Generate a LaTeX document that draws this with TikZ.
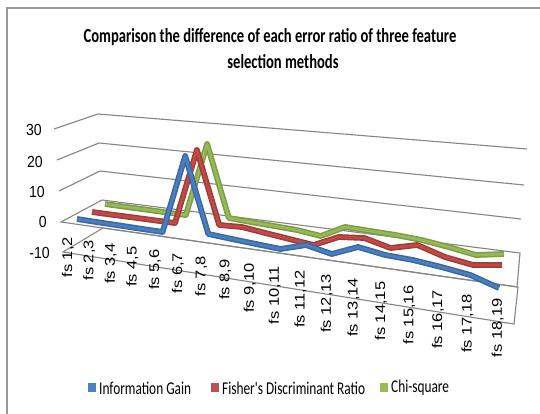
\documentclass[tikz,border=0pt]{standalone}
\usepackage{fontspec}
\setmainfont{Carlito}
\newfontfamily\axisfont{Liberation Sans}
\begin{document}
\begin{tikzpicture}[x=1pt,y=-1pt,
  frameline/.style={draw=gray!80,line width=1.4pt},
  gridline/.style={draw=black!48,line width=1.1pt},
  titletext/.style={inner sep=0pt,font=\fontsize{20}{23}\selectfont\bfseries},
  valtext/.style={inner sep=0pt,anchor=east,font=\axisfont\fontsize{16}{18}\selectfont},
  cattext/.style={inner sep=0pt,anchor=east,rotate=90,font=\axisfont\fontsize{16.5}{18}\selectfont},
  legtext/.style={inner sep=0pt,anchor=west,font=\fontsize{18}{21}\selectfont},
  serieswide/.style={line width=5.8pt,line join=round,line cap=butt},
  seriesnarrow/.style={line width=2.8pt,line join=round,line cap=butt}]
\definecolor{igout}{HTML}{3A68A3}
\definecolor{igin}{HTML}{4A7EBC}
\definecolor{fdout}{HTML}{A23B38}
\definecolor{fdin}{HTML}{BF4B48}
\definecolor{csout}{HTML}{7D9D43}
\definecolor{csin}{HTML}{95B858}
\definecolor{igkey}{HTML}{4F81BD}
\definecolor{fdkey}{HTML}{C0504D}
\definecolor{cskey}{HTML}{9BBB59}

\useasboundingbox (0,0) rectangle (540,414);
\fill[white] (0,0) rectangle (540,414);

% chart area border (top and left edges)
\draw[frameline] (7,414) -- (7,8) -- (541,8);

% title
\node[titletext] (t1) at (270,37) {\scalebox{0.73}[1]{Comparison the difference of each error ratio of three feature}};
\node[titletext] (t2) at (283,62) {\scalebox{0.73}[1]{selection methods}};

% corners of the walls: front-left, back-left, back-right per value level
\coordinate (fl30) at (54,129);  \coordinate (bl30) at (98,114);  \coordinate (br30) at (527,149);
\coordinate (fl20) at (57,160);  \coordinate (bl20) at (99,143);  \coordinate (br20) at (524,185);
\coordinate (fl10) at (59,191);  \coordinate (bl10) at (100,171); \coordinate (br10) at (521,219);
\coordinate (fl0)  at (61,222);  \coordinate (bl0)  at (102,200); \coordinate (br0)  at (520,253);
\coordinate (fr0)  at (517,287);
\coordinate (flm)  at (63,252);  \coordinate (blm)  at (103,228); \coordinate (brm)  at (518,287);
\coordinate (frm)  at (514,324);

% gridlines on side and back walls
\draw[gridline] (fl30) -- (bl30) -- (br30);
\draw[gridline] (fl20) -- (bl20) -- (br20);
\draw[gridline] (fl10) -- (bl10) -- (br10);
% plane at zero and floor at -10
\draw[gridline] (flm) -- (blm) -- (brm) -- (frm) -- cycle;
\draw[gridline] (fl0) -- (bl0) -- (br0) -- (fr0) -- cycle;

% value axis labels
\node[valtext] (v30) at (42,130) {\scalebox{0.88}[1]{30}};
\node[valtext] (v20) at (43,162) {\scalebox{0.88}[1]{20}};
\node[valtext] (v10) at (45,192) {\scalebox{0.88}[1]{10}};
\node[valtext] (v0)  at (47,222) {\scalebox{0.88}[1]{0}};
\node[valtext] (vm)  at (50,253) {\scalebox{0.88}[1]{-10}};

% category labels
\foreach \lab/\cx/\cy [count=\i] in {
  {fs 1,2}/68/237.0, {fs 2,3}/89.1/240.0, {fs 3,4}/110.6/243.1,
  {fs 4,5}/132.5/246.2, {fs 5,6}/155/249.4, {fs 6,7}/177.9/252.7,
  {fs 7,8}/201.3/256.0, {fs 8,9}/225.3/259.4, {fs 9,10}/249.8/262.9,
  {fs 10,11}/274.8/266.5, {fs 11,12}/300.4/270.1, {fs 12,13}/326.6/273.8,
  {fs 13,14}/353.5/277.7, {fs 14,15}/381/281.6, {fs 15,16}/409.1/285.6,
  {fs 16,17}/437.9/289.7, {fs 17,18}/467.4/293.9, {fs 18,19}/497.7/298.2}
  \node[cattext] (c\i) at (\cx,\cy) {\scalebox{1}[0.85]{\lab}};

% Chi-square series (back)
\def\cspath{(105,204) -- (124.6,206.7) -- (144.5,209.4) -- (164.9,212.2) -- (185.8,215)
  -- (207.1,144) -- (228.8,218) -- (251,222) -- (273.8,226) -- (297,230) -- (320.8,236)
  -- (345.2,227) -- (370.1,231) -- (395.6,235) -- (421.7,240) -- (448.5,247)
  -- (475.9,255) -- (504,254)}
\draw[serieswide,csout] \cspath;
\draw[seriesnarrow,csin] \cspath;

% Fisher's Discriminant Ratio series (middle)
\def\fdpath{(92,212) -- (112.1,214.7) -- (132.6,217.4) -- (153.6,220.2) -- (175,223)
  -- (196.9,150) -- (219.2,225) -- (242,227) -- (265.4,233) -- (289.3,239) -- (313.7,245)
  -- (338.7,237) -- (364.3,238) -- (390.5,248) -- (417.4,245) -- (444.9,257)
  -- (473,265) -- (502,265)}
\draw[serieswide,fdout] \fdpath;
\draw[seriesnarrow,fdin] \fdpath;

% Information Gain series (front)
\def\igpath{(77,219) -- (97.7,222.2) -- (118.9,225.4) -- (140.6,228.7) -- (162.6,232)
  -- (185.2,156) -- (208.3,234) -- (231.9,239) -- (256,244) -- (280.6,249) -- (305.9,245)
  -- (331.7,254) -- (358.1,247) -- (385.2,255) -- (412.9,260) -- (441.2,267)
  -- (470.3,275) -- (499,288)}
\draw[serieswide,igout] \igpath;
\draw[seriesnarrow,igin] \igpath;

% legend
\fill[igkey] (88,383) rectangle (96,392);
\node[legtext] (l1) at (99,388) {\scalebox{0.74}[1]{Information Gain}};
\fill[fdkey] (211,383) rectangle (219,392);
\node[legtext] (l2) at (222,388) {\scalebox{0.74}[1]{Fisher\textquotesingle s Discriminant Ratio}};
\fill[cskey] (380,383) rectangle (388,392);
\node[legtext] (l3) at (391,388) {\scalebox{0.74}[1]{Chi-square}};
\end{tikzpicture}
\end{document}
